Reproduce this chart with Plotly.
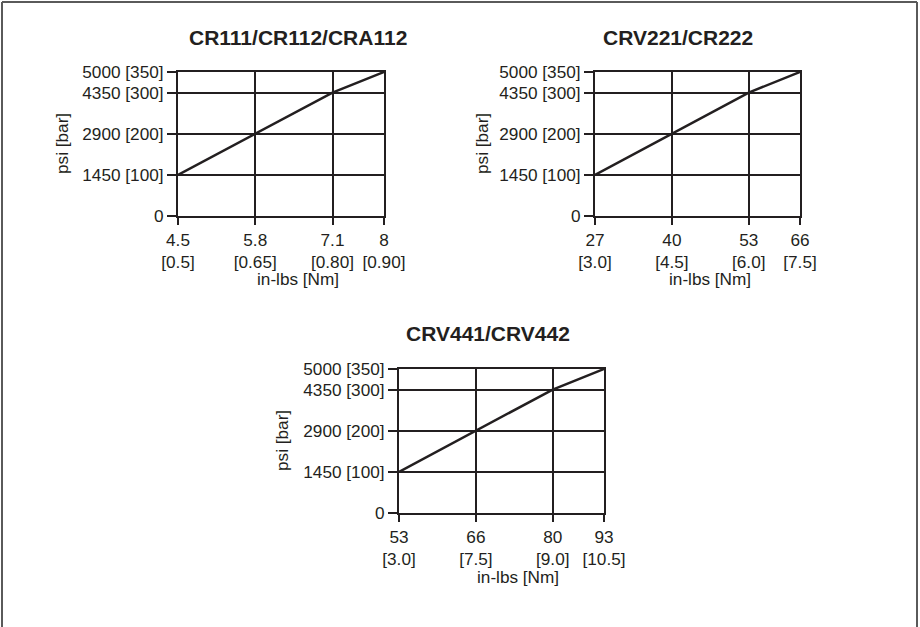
import plotly.graph_objects as go

# ---- data ----
chart_titles = ["CR111/CR112/CRA112", "CRV221/CR222", "CRV441/CRV442"]

torque_inlbs_1 = ["4.5", "5.8", "7.1", "8"]
torque_nm_1 = ["0.5", "0.65", "0.80", "0.90"]
torque_inlbs_2 = ["27", "40", "53", "66"]
torque_nm_2 = ["3.0", "4.5", "6.0", "7.5"]
torque_inlbs_3 = ["53", "66", "80", "93"]
torque_nm_3 = ["3.0", "7.5", "9.0", "10.5"]

pressure_psi = [0, 1450, 2900, 4350, 5000]
pressure_bar = [0, 100, 200, 300, 350]

# pressure (bar) reached at each torque setting (same for all three charts)
line_bar = [100, 200, 300, 350]

x_title = "in-lbs [Nm]"
y_title = "psi [bar]"

# ---- layout (schematic spacing of the torque grid, shared by all charts) ----
torque_grid_pos = [0, 3, 6, 8]

W, H = 920, 627
INK = "#231f20"
FONT = "Liberation Sans, Arial, Helvetica, sans-serif"
TICK_SIZE = 17.2

# plot boxes in pixels: (left, right, top, bottom)
boxes = [(178, 384, 72, 216), (595, 800, 72, 216), (399, 604, 369, 513)]
title_pos = [(298, 38), (678, 38), (488, 333)]
xtitle_pos = [(298, 279), (710, 279), (518, 577)]
ytitle_pos = [(62, 144), (482, 144), (282, 441)]

torque_sets = [(torque_inlbs_1, torque_nm_1), (torque_inlbs_2, torque_nm_2),
               (torque_inlbs_3, torque_nm_3)]

fig = go.Figure()
annotations = []
for i in range(3):
    n = "" if i == 0 else str(i + 1)
    l, r, t, b = boxes[i]
    inlbs, nm = torque_sets[i]
    fig.add_trace(go.Scatter(
        x=torque_grid_pos, y=line_bar, mode="lines",
        line=dict(color=INK, width=2.5), xaxis="x" + n, yaxis="y" + n,
        showlegend=False, hoverinfo="skip"))
    common = dict(showline=True, linecolor=INK, linewidth=2, mirror=True,
                  showgrid=True, gridcolor=INK, gridwidth=2, zeroline=False,
                  ticks="outside", tickcolor=INK, tickwidth=2, automargin=False,
                  tickfont=dict(family=FONT, size=TICK_SIZE, color=INK), fixedrange=True)
    fig.update_layout(**{
        "xaxis" + n: dict(domain=[l / W, r / W], anchor="y" + n,
                          range=[torque_grid_pos[0], torque_grid_pos[-1]],
                          tickmode="array", tickvals=torque_grid_pos,
                          ticktext=[f"{a}<br>[{c}]" for a, c in zip(inlbs, nm)],
                          ticklen=7, **common),
        "yaxis" + n: dict(domain=[1 - b / H, 1 - t / H], anchor="x" + n,
                          range=[pressure_bar[0], pressure_bar[-1]],
                          tickmode="array", tickvals=pressure_bar,
                          ticktext=[f"{p} [{q}]" if q else f"{p}"
                                    for p, q in zip(pressure_psi, pressure_bar)],
                          ticklen=9, **common),
    })
    tx, ty = title_pos[i]
    annotations.append(dict(text=f"<b>{chart_titles[i]}</b>", x=tx / W, y=1 - ty / H,
                            xref="paper", yref="paper", showarrow=False,
                            xanchor="center", yanchor="middle",
                            font=dict(family=FONT, size=21, color=INK)))
    ax_, ay_ = xtitle_pos[i]
    annotations.append(dict(text=x_title, x=ax_ / W, y=1 - ay_ / H,
                            xref="paper", yref="paper", showarrow=False,
                            xanchor="center", yanchor="middle",
                            font=dict(family=FONT, size=TICK_SIZE, color=INK)))
    bx, by = ytitle_pos[i]
    annotations.append(dict(text=y_title, x=bx / W, y=1 - by / H, textangle=-90,
                            xref="paper", yref="paper", showarrow=False,
                            xanchor="center", yanchor="middle",
                            font=dict(family=FONT, size=TICK_SIZE, color=INK)))

frame = "#5a5a5a"
shapes = [
    dict(type="line", xref="paper", yref="paper", x0=2 / W, x1=2 / W, y0=0, y1=1 - 2 / H,
         line=dict(color=frame, width=2)),
    dict(type="line", xref="paper", yref="paper", x0=2 / W, x1=917 / W, y0=1 - 2 / H,
         y1=1 - 2 / H, line=dict(color=frame, width=2)),
    dict(type="line", xref="paper", yref="paper", x0=917 / W, x1=917 / W, y0=0,
         y1=1 - 2 / H, line=dict(color=frame, width=2)),
]

fig.update_layout(width=W, height=H,
                  margin=dict(l=0, r=0, t=0, b=0, pad=0, autoexpand=False),
                  paper_bgcolor="white", plot_bgcolor="white",
                  annotations=annotations, shapes=shapes,
                  font=dict(family=FONT, color=INK))

fig.write_html("out.html", config={"displayModeBar": False},
               post_script="document.body.style.margin='0';"
                           "document.body.style.overflow='hidden';")
